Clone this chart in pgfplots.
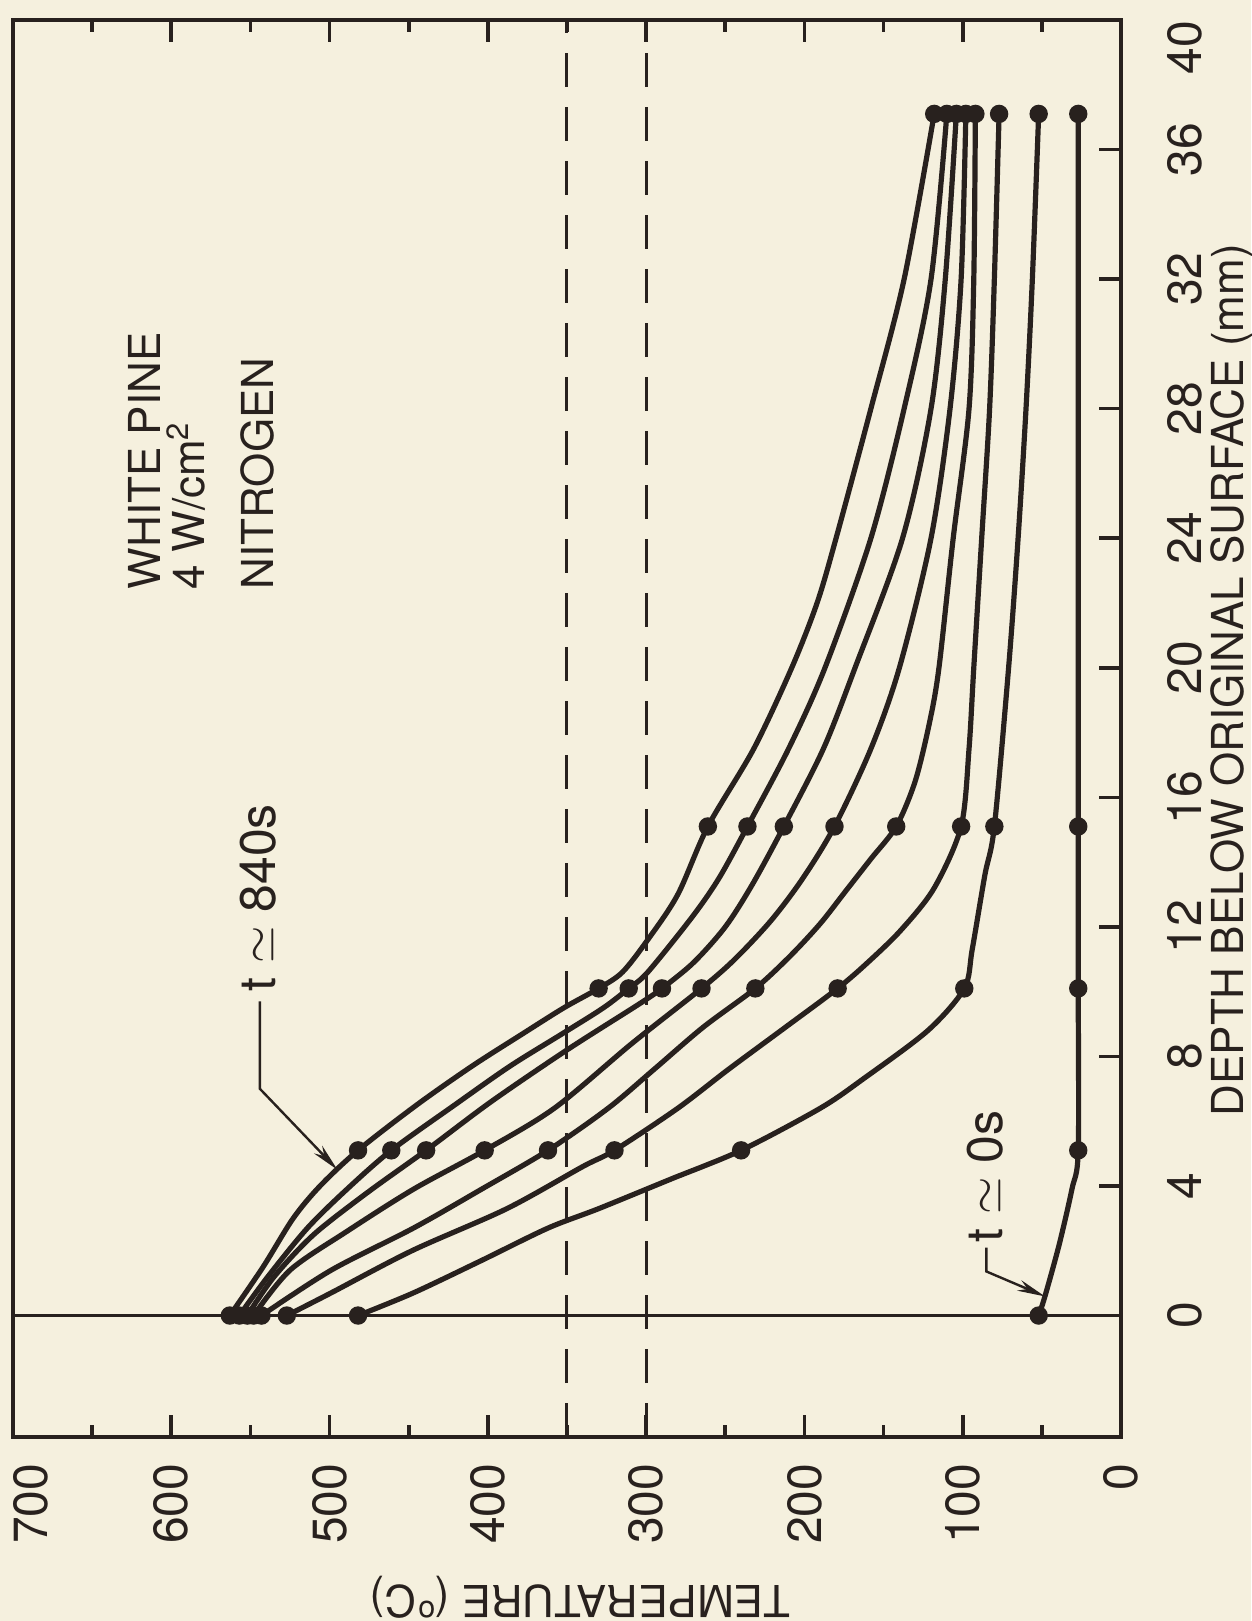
\documentclass[border=0pt]{standalone}
\usepackage{fontspec}
\setmainfont{TeX Gyre Heros}
\usepackage{pgfplots}
\pgfplotsset{compat=1.18}
\usetikzlibrary{backgrounds,arrows.meta}
\definecolor{bgc}{RGB}{245,240,222}
\definecolor{ink}{RGB}{40,33,30}
\begin{document}
\begin{tikzpicture}[show background rectangle, inner frame sep=0pt,
  background rectangle/.style={fill=bgc,draw=none}]
\begin{axis}[
  scale only axis, width=277pt, height=354.25pt,
  xmin=0, xmax=700, x dir=reverse,
  ymin=-3.75, ymax=40,
  xtick={0,100,...,600}, minor xtick={50,150,...,650},
  extra x ticks={700},
  extra x tick style={xticklabel style={anchor=north east}},
  ytick={0,4,...,36}, ytick pos=right, yticklabel pos=right,
  extra y ticks={40},
  extra y tick style={yticklabel style={anchor=north east}},
  tick align=inside, major tick length=5.5pt, minor tick length=3pt,
  every tick/.style={ink, line width=0.9pt},
  axis line style={ink, line width=1pt},
  tick label style={font=\fontsize{12}{14}\selectfont, text=ink},
  xticklabel style={rotate=90, anchor=east, inner sep=0pt},
  xticklabel shift=6.5pt,
  yticklabel style={rotate=90, anchor=north, inner sep=0pt},
  yticklabel shift=11.5pt,
  /pgf/number format/assume math mode=true,
  clip=false,
]
\coordinate (BL) at (axis description cs:0,0);
\coordinate (TR) at (axis description cs:1,1);
% reference lines
\draw[ink, line width=0.7pt] (axis cs:700,0) -- (axis cs:0,0);
\draw[ink, line width=0.75pt, dash pattern=on 8.5pt off 5pt] (axis cs:350,-3.75) -- (axis cs:350,40);
\draw[ink, line width=0.75pt, dash pattern=on 8.5pt off 5pt] (axis cs:300,-3.75) -- (axis cs:300,40);
% curves (temperature, depth)
\pgfplotsset{cv/.style={ink, line width=1.3pt, smooth, no marks}}
\addplot[cv] coordinates {(563,0) (542,1.5) (523,3.0) (506,4.0) (482,5.1) (445,6.5) (410,7.7) (378,8.7) (352,9.5) (330,10.1) (315,10.6) (299,11.6) (280,13.0) (261,15.1) (232,17.5) (208,20) (192,22) (180,24) (158,28) (137,32) (118,37.1)};
\addplot[cv] coordinates {(557,0) (539,1.2) (514,2.7) (489,3.9) (461,5.1) (421,6.5) (386,7.7) (353,8.7) (327,9.5) (311,10.1) (299,10.6) (271,12.3) (254,13.5) (236,15.1) (210,17.5) (187,20) (158,24) (137,28) (120,32) (110,37.1)};
\addplot[cv] coordinates {(552,0) (535,1.2) (510,2.5) (476,3.8) (439,5.1) (398,6.6) (350,8.2) (305,9.6) (290,10.1) (270,10.9) (250,12.0) (233,13.3) (213,15.1) (188,17.5) (168,20) (138,24) (120,28) (111,32) (104,37.1)};
\addplot[cv] coordinates {(548,0) (525,1.4) (489,2.6) (447,3.9) (402,5.1) (358,6.4) (309,8.4) (265,10.1) (244,11.0) (221,12.2) (201,13.5) (181,15.1) (158,17.5) (140,20) (120,24) (108,28) (101,32) (98,37.1)};
\addplot[cv] coordinates {(543,0) (499,1.4) (447,2.7) (404,3.9) (362,5.1) (324,6.4) (295,7.6) (264,8.9) (231,10.1) (209,11.1) (190,12.1) (174,13.1) (158,14.1) (142,15.1) (130,16.5) (121,18.3) (115,20) (106,24) (96,28) (93,32) (92,37.1)};
\addplot[cv] coordinates {(527,0) (499,0.7) (448,2.0) (388,3.3) (340,4.6) (320,5.1) (280,6.4) (248,7.6) (212,8.9) (179,10.1) (160,10.9) (139,11.9) (118,13.2) (101,15.1) (96,17.5) (93,20) (88,24) (83,28) (80,32) (77,37.1)};
\addplot[cv] coordinates {(482,0) (447,0.7) (404,1.7) (362,2.7) (330,3.3) (285,4.2) (240,5.1) (190,6.4) (163,7.3) (122,8.8) (99,10.1) (94,11.3) (86,13.6) (80,15.1) (71,20) (65,24) (60,28) (56,32) (52,37.1)};
\addplot[cv] coordinates {(52,0) (48,0.6) (39,2.2) (31,3.9) (27,5.1) (27,10.1) (27,15.1) (27,37.1)};
% measured points
\pgfplotsset{dt/.style={only marks, mark=*, mark size=2.1pt, ink, mark options={fill=ink, draw=ink}}}
\addplot[dt] coordinates {(563,0) (557,0) (552,0) (548,0) (543,0) (527,0) (482,0) (52,0)};
\addplot[dt] coordinates {(482,5.1) (461,5.1) (439,5.1) (402,5.1) (362,5.1) (320,5.1) (240,5.1) (27,5.1)};
\addplot[dt] coordinates {(330,10.1) (311,10.1) (290,10.1) (265,10.1) (231,10.1) (179,10.1) (99,10.1) (27,10.1)};
\addplot[dt] coordinates {(261,15.1) (236,15.1) (213,15.1) (181,15.1) (142,15.1) (101,15.1) (80,15.1) (27,15.1)};
\addplot[dt] coordinates {(118,37.1) (110,37.1) (104,37.1) (98,37.1) (92,37.1) (77,37.1) (52,37.1) (27,37.1)};
% annotations
\node[rotate=90, font=\fontsize{12.5}{14}\selectfont, text=ink] at (axis cs:545,12.9) {t $\simeq$ 840s};
\draw[ink, line width=0.6pt, -{Stealth[length=7pt,width=2.8pt]}] (axis cs:544,9.7) -- (axis cs:544,7.0) -- (axis cs:495,4.5);
\node[rotate=90, font=\fontsize{12.5}{14}\selectfont, text=ink] at (axis cs:86,4.3) {t $\simeq$ 0s};
\draw[ink, line width=0.6pt, -{Stealth[length=7pt,width=2.8pt]}] (axis cs:85,2.1) -- (axis cs:85,1.36) -- (axis cs:48,0.59);
\node[rotate=90, anchor=base west, inner sep=0pt, font=\fontsize{11}{13}\selectfont, text=ink] at (axis cs:607,22.4) {WHITE PINE};
\node[rotate=90, anchor=base west, inner sep=0pt, font=\fontsize{11}{13}\selectfont, text=ink] at (axis cs:579,22.4) {4 W/cm\textsuperscript{2}};
\node[rotate=90, anchor=base west, inner sep=0pt, font=\fontsize{11}{13}\selectfont, text=ink] at (axis cs:535.4,22.4) {NITROGEN};
% axis labels
\node[rotate=90, anchor=base, inner sep=0pt, font=\fontsize{11}{13}\selectfont, text=ink] at (axis description cs:1.1105,0.534) {DEPTH BELOW ORIGINAL SURFACE (mm)};
\node[rotate=180, font=\fontsize{11}{13}\selectfont, text=ink] at (axis description cs:0.5117,-0.1129) {TEMPERATURE (\textsuperscript{o}C)};
\end{axis}
\pgfresetboundingbox
\useasboundingbox ([xshift=-3.25pt,yshift=-46pt]BL) rectangle ([xshift=32.5pt,yshift=5pt]TR);
\end{tikzpicture}
\end{document}
